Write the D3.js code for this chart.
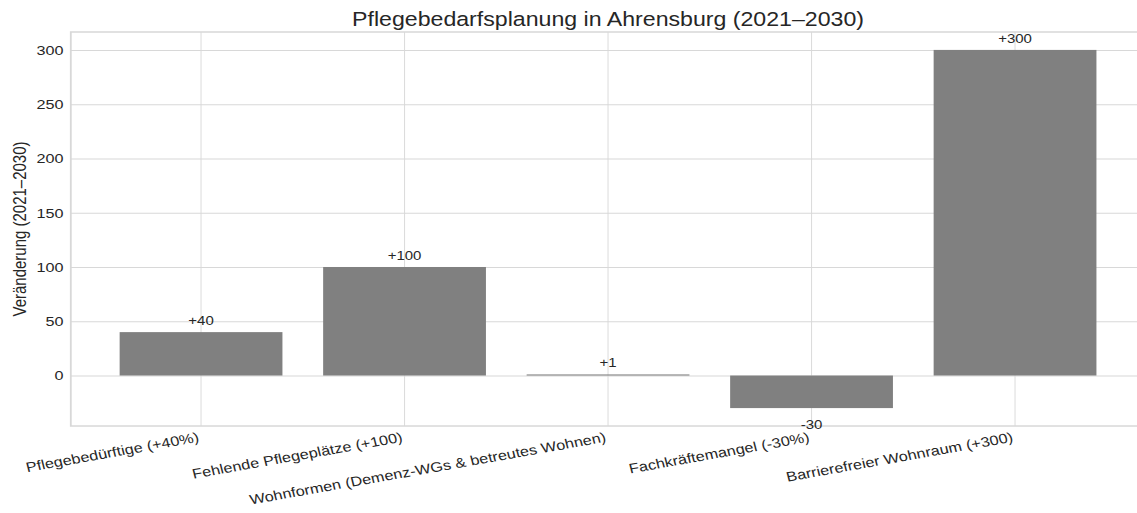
<!DOCTYPE html>
<html>
<head>
<meta charset="utf-8">
<script src="https://cdn.jsdelivr.net/npm/d3@7"></script>
<style>
  html, body { margin: 0; padding: 0; background: #fff; }
  svg { display: block; }
  text { font-family: "Liberation Sans", Arial, sans-serif; fill: #262626; }
</style>
</head>
<body>
<svg id="chart"></svg>
<script>
// Categories and changes 2021–2030
const categories = [
  "Pflegebedürftige (+40%)",
  "Fehlende Pflegeplätze (+100)",
  "Wohnformen (Demenz-WGs & betreutes Wohnen)",
  "Fachkräftemangel (-30%)",
  "Barrierefreier Wohnraum (+300)"
];
const values = [40, 100, 1, -30, 300];
const valueLabels = ["+40", "+100", "+1", "-30", "+300"];
const yTicks = [0, 50, 100, 150, 200, 250, 300];

const titleText = "Pflegebedarfsplanung in Ahrensburg (2021–2030)";
const yLabelText = "Veränderung (2021–2030)";

// Page size; the drawing is laid out in a horizontally stretched coordinate system
const pageW = 1137, pageH = 513;
const stretch = 1.2;
const W = pageW / stretch, H = pageH;

const svg = d3.select("#chart")
  .attr("width", pageW)
  .attr("height", pageH)
  .attr("viewBox", `0 0 ${W} ${H}`)
  .attr("preserveAspectRatio", "none");

const plot = { left: 59, right: 954.4, top: 32, bottom: 426 };

// y: data extent with 5% margins
const yMin = d3.min(values.concat([0])), yMax = d3.max(values);
const pad = (yMax - yMin) * 0.05;
const y = d3.scaleLinear()
  .domain([yMin - pad, yMax + pad])
  .range([plot.bottom, plot.top]);

// x: bars 0.8 wide with 0.24 step of outer margin
const x = d3.scaleBand()
  .domain(categories)
  .range([plot.left, plot.right])
  .paddingInner(0.2)
  .paddingOuter(0.24);

const gridColor = "#d8d8d8";

// Horizontal grid
const yAxis = d3.axisLeft(y).tickValues(yTicks).tickSize(-(plot.right - plot.left)).tickPadding(6);
const gy = svg.append("g")
  .attr("transform", `translate(${plot.left},0)`)
  .call(yAxis);
gy.select(".domain").remove();
gy.selectAll(".tick line").attr("stroke", gridColor).attr("stroke-width", 1);
gy.selectAll(".tick text")
  .attr("font-size", 13.5)
  .attr("fill", "#262626")
  .attr("font-family", "Liberation Sans, Arial, sans-serif");

// Vertical grid at category centres
const xAxis = d3.axisBottom(x).tickSize(-(plot.bottom - plot.top)).tickSizeOuter(0).tickFormat("");
const gx = svg.append("g")
  .attr("transform", `translate(0,${plot.bottom})`)
  .call(xAxis);
gx.select(".domain").remove();
gx.selectAll(".tick line").attr("stroke", gridColor).attr("stroke-width", 1 / stretch);

// Frame
svg.append("rect")
  .attr("x", plot.left).attr("y", plot.top)
  .attr("width", plot.right - plot.left)
  .attr("height", plot.bottom - plot.top)
  .attr("fill", "none")
  .attr("stroke", gridColor)
  .attr("stroke-width", 1.5);

// Bars
svg.append("g").selectAll("rect")
  .data(values)
  .join("rect")
  .attr("x", (d, i) => x(categories[i]))
  .attr("width", x.bandwidth())
  .attr("y", d => y(Math.max(0, d)))
  .attr("height", d => Math.abs(y(d) - y(0)))
  .attr("fill", "#808080");

// Value labels
svg.append("g").selectAll("text")
  .data(values)
  .join("text")
  .attr("x", (d, i) => x(categories[i]) + x.bandwidth() / 2)
  .attr("y", d => d >= 0 ? y(d) - 7 : y(d) + 21)
  .attr("text-anchor", "middle")
  .attr("font-size", 12.5)
  .text((d, i) => valueLabels[i]);

// Rotated category labels
const angle = 12;
const fsX = 13.6;
svg.append("g").selectAll("text")
  .data(categories)
  .join("text")
  .attr("font-size", fsX)
  .attr("text-anchor", "end")
  .attr("transform", d => {
    const cx = x(d) + x.bandwidth() / 2 - 1;
    const cy = plot.bottom + 6 + fsX * 0.72 * Math.cos(angle * Math.PI / 180);
    return `translate(${cx},${cy}) rotate(${-angle})`;
  })
  .text(d => d);

// Title
svg.append("text")
  .attr("x", (plot.left + plot.right) / 2)
  .attr("y", 26)
  .attr("text-anchor", "middle")
  .attr("font-size", 19.3)
  .text(titleText);

// Y axis label
svg.append("text")
  .attr("transform", `translate(${17},${(plot.top + plot.bottom) / 2}) rotate(-90)`)
  .attr("text-anchor", "middle")
  .attr("dominant-baseline", "central")
  .attr("font-size", 15)
  .text(yLabelText);
</script>
</body>
</html>
